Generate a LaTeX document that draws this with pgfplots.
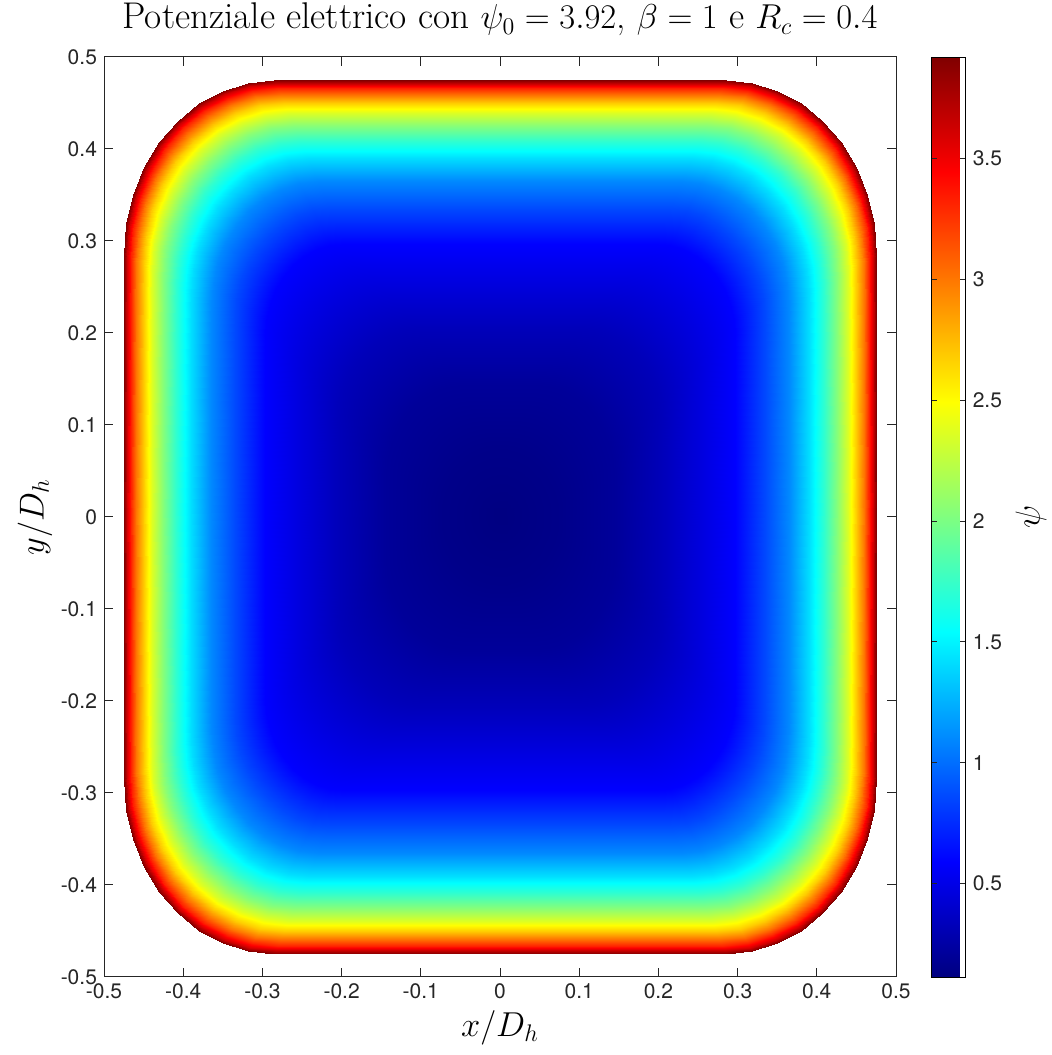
\documentclass[border=0pt]{standalone}
\usepackage{fontspec}
\usepackage{pgfplots}
\usepackage{pgfplotstable}
\pgfplotsset{compat=1.18}
\newfontfamily\hv{TeX Gyre Heros}
\definecolor{axgray}{RGB}{38,38,38}

% one quadrant of the channel (x>=0, y>=0); each scanline (12 points) is one level of psi
\pgfplotstableread{
x y psi
-0.01 0.475 3.92
0.285 0.475 3.92
0.3180 0.4721 3.92
0.3500 0.4635 3.92
0.3800 0.4495 3.92
0.4071 0.4305 3.92
0.4305 0.4071 3.92
0.4495 0.3800 3.92
0.4635 0.3500 3.92
0.4721 0.3180 3.92
0.475 0.285 3.92
0.475 -0.01 3.92
-0.01 0.471 3.62
0.283 0.471 3.62
0.3156 0.4681 3.62
0.3473 0.4597 3.62
0.377 0.4458 3.62
0.4038 0.4270 3.62
0.4270 0.4038 3.62
0.4458 0.377 3.62
0.4597 0.3473 3.62
0.4681 0.3156 3.62
0.471 0.283 3.62
0.471 -0.01 3.62
-0.01 0.466 3.32
0.2805 0.466 3.32
0.3127 0.4632 3.32
0.3439 0.4548 3.32
0.3733 0.4411 3.32
0.3997 0.4226 3.32
0.4226 0.3997 3.32
0.4411 0.3733 3.32
0.4548 0.3439 3.32
0.4632 0.3127 3.32
0.466 0.2805 3.32
0.466 -0.01 3.32
-0.01 0.459 3.01
0.277 0.459 3.01
0.3086 0.4562 3.01
0.3392 0.4480 3.01
0.368 0.4346 3.01
0.394 0.4164 3.01
0.4164 0.394 3.01
0.4346 0.368 3.01
0.4480 0.3392 3.01
0.4562 0.3086 3.01
0.459 0.277 3.01
0.459 -0.01 3.01
-0.01 0.450 2.68
0.2725 0.450 2.68
0.3033 0.4473 2.68
0.3332 0.4393 2.68
0.3613 0.4262 2.68
0.3866 0.4085 2.68
0.4085 0.3866 2.68
0.4262 0.3613 2.68
0.4393 0.3332 2.68
0.4473 0.3033 2.68
0.450 0.2725 2.68
0.450 -0.01 2.68
-0.01 0.439 2.36
0.267 0.439 2.36
0.2969 0.4364 2.36
0.3258 0.4286 2.36
0.353 0.416 2.36
0.3776 0.3988 2.36
0.3988 0.3776 2.36
0.416 0.353 2.36
0.4286 0.3258 2.36
0.4364 0.2969 2.36
0.439 0.267 2.36
0.439 -0.01 2.36
-0.01 0.425 2.04
0.260 0.425 2.04
0.2886 0.4225 2.04
0.3164 0.4151 2.04
0.3425 0.4029 2.04
0.3661 0.3864 2.04
0.3864 0.3661 2.04
0.4029 0.3425 2.04
0.4151 0.3164 2.04
0.4225 0.2886 2.04
0.425 0.260 2.04
0.425 -0.01 2.04
-0.01 0.409 1.72
0.252 0.409 1.72
0.2793 0.4066 1.72
0.3057 0.3995 1.72
0.3305 0.388 1.72
0.3529 0.3723 1.72
0.3723 0.3529 1.72
0.388 0.3305 1.72
0.3995 0.3057 1.72
0.4066 0.2793 1.72
0.409 0.252 1.72
0.409 -0.01 1.72
-0.01 0.390 1.42
0.2425 0.390 1.42
0.2681 0.3878 1.42
0.2929 0.3811 1.42
0.3163 0.3702 1.42
0.3373 0.3555 1.42
0.3555 0.3373 1.42
0.3702 0.3163 1.42
0.3811 0.2929 1.42
0.3878 0.2681 1.42
0.390 0.2425 1.42
0.390 -0.01 1.42
-0.01 0.365 1.10
0.230 0.365 1.10
0.2534 0.3629 1.10
0.2762 0.3569 1.10
0.2975 0.3469 1.10
0.3168 0.3334 1.10
0.3334 0.3168 1.10
0.3469 0.2975 1.10
0.3569 0.2762 1.10
0.3629 0.2534 1.10
0.365 0.230 1.10
0.365 -0.01 1.10
-0.01 0.335 0.86
0.215 0.335 0.86
0.2358 0.3332 0.86
0.2560 0.3278 0.86
0.275 0.3189 0.86
0.2921 0.3069 0.86
0.3069 0.2921 0.86
0.3189 0.275 0.86
0.3278 0.2560 0.86
0.3332 0.2358 0.86
0.335 0.215 0.86
0.335 -0.01 0.86
-0.01 0.297 0.59
0.197 0.297 0.59
0.2144 0.2955 0.59
0.2312 0.2910 0.59
0.247 0.2836 0.59
0.2613 0.2736 0.59
0.2736 0.2613 0.59
0.2836 0.247 0.59
0.2910 0.2312 0.59
0.2955 0.2144 0.59
0.297 0.197 0.59
0.297 -0.01 0.59
-0.01 0.255 0.47
0.155 0.255 0.47
0.1724 0.2535 0.47
0.1892 0.2490 0.47
0.205 0.2416 0.47
0.2193 0.2316 0.47
0.2316 0.2193 0.47
0.2416 0.205 0.47
0.2490 0.1892 0.47
0.2535 0.1724 0.47
0.255 0.155 0.47
0.255 -0.01 0.47
-0.01 0.205 0.33
0.105 0.205 0.33
0.1224 0.2035 0.33
0.1392 0.1990 0.33
0.155 0.1916 0.33
0.1693 0.1816 0.33
0.1816 0.1693 0.33
0.1916 0.155 0.33
0.1990 0.1392 0.33
0.2035 0.1224 0.33
0.205 0.105 0.33
0.205 -0.01 0.33
-0.01 0.145 0.21
0.045 0.145 0.21
0.0624 0.1435 0.21
0.0792 0.1390 0.21
0.095 0.1316 0.21
0.1093 0.1216 0.21
0.1216 0.1093 0.21
0.1316 0.095 0.21
0.1390 0.0792 0.21
0.1435 0.0624 0.21
0.145 0.045 0.21
0.145 -0.01 0.21
-0.01 0.075 0.15
0 0.075 0.15
0.0130 0.0739 0.15
0.0257 0.0705 0.15
0.0375 0.0650 0.15
0.0482 0.0575 0.15
0.0575 0.0482 0.15
0.0650 0.0375 0.15
0.0705 0.0257 0.15
0.0739 0.0130 0.15
0.075 0 0.15
0.075 -0.01 0.15
-0.01 0 0.12
0 0 0.12
0 0 0.12
0 0 0.12
0 0 0.12
0 0 0.12
0 0 0.12
0 0 0.12
0 0 0.12
0 0 0.12
0 0 0.12
0 -0.01 0.12
}\quadrant

\begin{document}
\begin{tikzpicture}
\begin{axis}[
  name=main,
  scale only axis, width=396pt, height=460pt,
  xmin=-0.5, xmax=0.5, ymin=-0.5, ymax=0.5,
  xtick={-0.5,-0.4,-0.3,-0.2,-0.1,0,0.1,0.2,0.3,0.4,0.5},
  xticklabels={-0.5,-0.4,-0.3,-0.2,-0.1,0,0.1,0.2,0.3,0.4,0.5},
  ytick={-0.5,-0.4,-0.3,-0.2,-0.1,0,0.1,0.2,0.3,0.4,0.5},
  yticklabels={-0.5,-0.4,-0.3,-0.2,-0.1,0,0.1,0.2,0.3,0.4,0.5},
  ticklabel style={font=\hv\fontsize{10.5}{12}\selectfont, text=axgray},
  tick align=inside, major tick length=4.5pt,
  tick style={color=axgray, line width=0.5pt},
  axis line style={color=axgray, line width=0.5pt},
  axis on top,
  colormap/jet, point meta min=0.114, point meta max=3.92,
  colorbar,
  colorbar style={
    at={(main.north east)}, anchor=north west, xshift=9.1pt,
    width=17.2pt,
    ytick={0.5,1,1.5,2,2.5,3,3.5},
    yticklabels={0.5,1,1.5,2,2.5,3,3.5},
    yticklabel style={font=\hv\fontsize{10.5}{12}\selectfont, text=axgray},
    major tick length=3pt,
    ylabel={$\psi$},
    ylabel style={font=\fontsize{17}{20}\selectfont, at={(axis description cs:2.9,0.5)}, anchor=center},
  },
  title={Potenziale elettrico con $\psi_0 = 3.92$, $\beta = 1$ e $R_c = 0.4$},
  title style={font=\fontsize{18.6}{22}\selectfont, at={(axis description cs:0.5,1)}, anchor=base, yshift=8pt},
  xlabel={$x/D_h$}, ylabel={$y/D_h$},
  xlabel style={font=\fontsize{17}{20}\selectfont, at={(axis description cs:0.5,-0.0554)}, anchor=center},
  ylabel style={font=\fontsize{17}{20}\selectfont, at={(axis description cs:-0.0871,0.5)}, anchor=center},
]
\addplot[surf, shader=interp, mesh/rows=17, mesh/cols=12, point meta=explicit]
  table[x=x, y=y, meta=psi]{\quadrant};
\addplot[surf, shader=interp, mesh/rows=17, mesh/cols=12, point meta=explicit]
  table[x expr=-\thisrow{x}, y=y, meta=psi]{\quadrant};
\addplot[surf, shader=interp, mesh/rows=17, mesh/cols=12, point meta=explicit]
  table[x=x, y expr=-\thisrow{y}, meta=psi]{\quadrant};
\addplot[surf, shader=interp, mesh/rows=17, mesh/cols=12, point meta=explicit]
  table[x expr=-\thisrow{x}, y expr=-\thisrow{y}, meta=psi]{\quadrant};
\end{axis}
\pgfresetboundingbox
\path[use as bounding box] ([xshift=-52pt,yshift=-39pt]main.south west) rectangle ([xshift=77.5pt,yshift=28.5pt]main.north east);
\end{tikzpicture}
\end{document}
